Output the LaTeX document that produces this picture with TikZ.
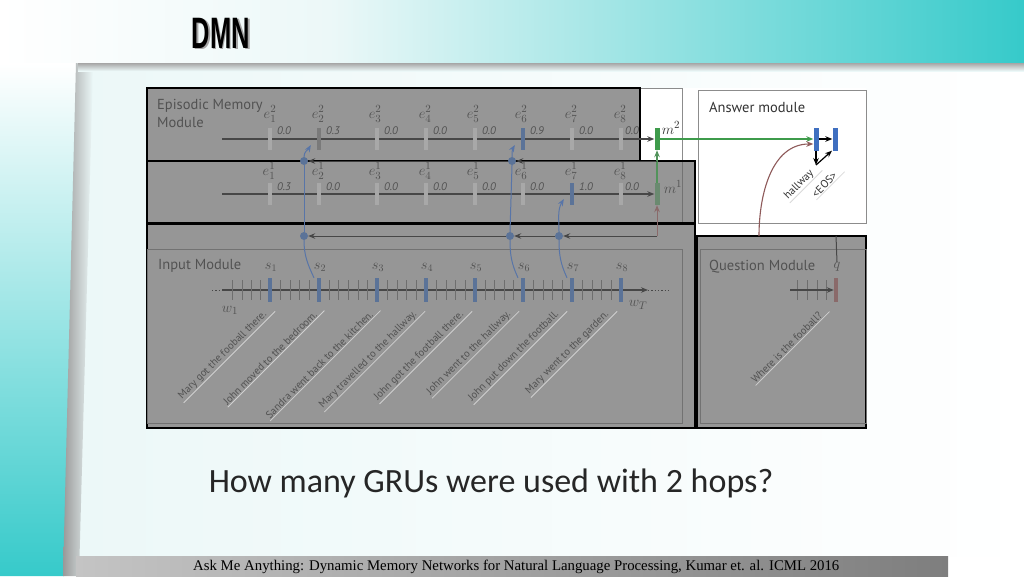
\documentclass[tikz,border=0pt]{standalone}
\usepackage{fontspec}
\usepackage{amsmath}
\usepackage{xcolor}
\usepackage{tikz}
\usetikzlibrary{arrows.meta}
\setmainfont{PT Sans}
\newfontfamily\slidefont{Carlito}
\newfontfamily\citefont{Liberation Serif}
\newfontfamily\titlefont{Liberation Sans}

\definecolor{bannerteal}{HTML}{36CACA}
\definecolor{paneltint}{HTML}{ECF8F8}
\definecolor{barleft}{HTML}{C4C4C4}
\definecolor{barright}{HTML}{7E7E7E}
\definecolor{ovgray}{HTML}{969696}
\definecolor{dimtext}{HTML}{525252}
\definecolor{dimline}{HTML}{474747}
\definecolor{dimtick}{HTML}{6E6E6E}
\definecolor{gatelight}{HTML}{A8A8A8}
\definecolor{gatemid}{HTML}{7A7A7A}
\definecolor{dimblue}{HTML}{5B7398}
\definecolor{linkblue}{HTML}{5875A8}
\definecolor{dimgreen}{HTML}{6A8A70}
\definecolor{memgreen}{HTML}{3E9B4B}
\definecolor{ansblue}{HTML}{3F6FC0}
\definecolor{qbrown}{HTML}{8E5A5A}
\definecolor{dimbrown}{HTML}{8A6A6A}
\definecolor{boxline}{HTML}{8C8C8C}
\definecolor{dimbox}{HTML}{727272}

\tikzset{
  >={Stealth[length=7pt,width=5.5pt]},
  overlay/.style={fill=ovgray, draw=black, line width=1.8pt},
  modbox/.style={draw=boxline, line width=0.9pt},
  innerbox/.style={draw=dimbox, line width=0.9pt},
  bar/.style={rectangle, draw=none, inner sep=0pt, minimum width=4pt, minimum height=22pt},
  sbar/.style={bar, fill=dimblue, minimum height=24pt},
  ansbar/.style={bar, fill=ansblue, minimum width=5pt, minimum height=23pt},
  dot/.style={circle, fill=dimblue, inner sep=0pt, minimum size=8pt},
  modlabel/.style={font=\fontsize{14.5}{18}\selectfont, text=dimtext, align=left, inner sep=0pt},
  elabel/.style={font=\fontsize{15}{15}\selectfont, text=dimtext, inner sep=0pt},
  slabel/.style={font=\fontsize{14}{14}\selectfont, text=dimtext, inner sep=0pt},
  vlabel/.style={font=\itshape\fontsize{11}{11}\selectfont, text=dimtext, inner sep=0pt},
  sent/.style={font=\fontsize{10.5}{10.5}\selectfont, text=dimtext, rotate=45, anchor=east, inner sep=1pt},
  uline/.style={draw=white!55!ovgray, line width=0.8pt, shorten >=-7pt},
  epline/.style={draw=dimline, line width=1.2pt},
  tline/.style={draw=dimline, line width=1.3pt},
  tick/.style={draw=dimtick, line width=0.7pt},
  link/.style={draw=linkblue, line width=1pt},
  gateline/.style={draw=dimline, line width=1pt},
}

\begin{document}
\begin{tikzpicture}[x=1pt, y=-1pt]
\useasboundingbox (0,0) rectangle (1024,576);

% slide background
\fill[white] (0,0) rectangle (1024,576);
\shade[left color=white, right color=paneltint] (0,0) rectangle (330,63);
\shade[left color=paneltint, right color=bannerteal] (330,0) rectangle (1024,63);
\shade[top color=white, bottom color=bannerteal] (0,63) -- (78,63) -- (64,576) -- (0,576) -- cycle;
\shade[left color=paneltint, right color=white] (78,66) rectangle (1024,556);
\shade[left color=gray!80, right color=paneltint] (76,63) -- (93,66) -- (79,576) -- (63,576) -- cycle;
\shade[top color=gray!70, bottom color=paneltint] (78,63) rectangle (1024,71);
\shade[left color=barleft, right color=barright] (76,556) rectangle (948,576);

% title
\node[font=\titlefont\bfseries\fontsize{44}{44}\selectfont, xscale=0.58, text=gray!70] (titleshadow) at (222.5,34.5) {DMN};
\node[font=\titlefont\bfseries\fontsize{44}{44}\selectfont, xscale=0.58, text=black] (title) at (221,33) {DMN};

% figure: original module boxes
\fill[white] (147,88) rectangle (866,428);
\draw[modbox] (147,88) -- (682,88) -- (682,236);
\draw[modbox] (698,90) rectangle (866,223);

% highlight boxes
\draw[overlay] (147,88) rectangle (640,161);
\draw[overlay] (147,161) rectangle (695,223);
\draw[overlay] (147,224) rectangle (695,428);
\draw[overlay] (697,236) rectangle (866,428);
\draw[innerbox] (147,249) rectangle (682,423);
\draw[innerbox] (700,249) rectangle (866,423);
\draw[innerbox] (682,162) -- (682,222);

% module names
\node[modlabel, anchor=north west] (epilabel) at (157,99) {Episodic Memory\\Module};
\node[modlabel, anchor=west] (inlabel) at (158,266) {Input Module};
\node[modlabel, anchor=west] (qlabel) at (709,267) {Question Module};
\node[modlabel, anchor=west, text=black!80] (anslabel) at (709,107) {Answer module};

% memories
\node[bar, fill=memgreen, minimum width=5pt] (m2) at (657,139) {};
\node[elabel, text=black!80] (lm2) at (671,128) {$m^{2}$};
\node[bar, fill=dimgreen, minimum width=5pt] (m1) at (657,194) {};
\node[elabel] (lm1) at (673,187) {$m^{1}$};

% episode 2
\coordinate (ep2start) at (222,139);
\draw[epline, ->] (ep2start) -- (m2.west);
\node[bar, fill=gatelight] (e21) at (270,139) {};
\node[bar, fill=gatemid] (e22) at (319,139) {};
\node[bar, fill=gatelight] (e23) at (377,139) {};
\node[bar, fill=gatelight] (e24) at (426,139) {};
\node[bar, fill=gatelight] (e25) at (475,139) {};
\node[bar, fill=dimblue] (e26) at (523,139) {};
\node[bar, fill=gatelight] (e27) at (572,139) {};
\node[bar, fill=gatelight] (e28) at (621,139) {};
\node[elabel] (le21) at (270,114) {$e^{2}_{1}$};
\node[elabel] (le22) at (318,114) {$e^{2}_{2}$};
\node[elabel] (le23) at (375,114) {$e^{2}_{3}$};
\node[elabel] (le24) at (425,114) {$e^{2}_{4}$};
\node[elabel] (le25) at (473,114) {$e^{2}_{5}$};
\node[elabel] (le26) at (521,114) {$e^{2}_{6}$};
\node[elabel] (le27) at (571,114) {$e^{2}_{7}$};
\node[elabel] (le28) at (620,114) {$e^{2}_{8}$};
\node[vlabel] (v21) at (284,131) {0.0};
\node[vlabel] (v22) at (333,131) {0.3};
\node[vlabel] (v23) at (391,131) {0.0};
\node[vlabel] (v24) at (440,131) {0.0};
\node[vlabel] (v25) at (489,131) {0.0};
\node[vlabel] (v26) at (537,131) {0.9};
\node[vlabel] (v27) at (586,131) {0.0};
\node[vlabel] (v28) at (632,131) {0.0};

% episode 1
\coordinate (ep1start) at (222,194);
\draw[epline, ->] (ep1start) -- (m1.west);
\node[bar, fill=gatelight] (e11) at (270,194) {};
\node[bar, fill=gatelight] (e12) at (319,194) {};
\node[bar, fill=gatelight] (e13) at (377,194) {};
\node[bar, fill=gatelight] (e14) at (426,194) {};
\node[bar, fill=gatelight] (e15) at (475,194) {};
\node[bar, fill=gatelight] (e16) at (523,194) {};
\node[bar, fill=dimblue] (e17) at (572,194) {};
\node[bar, fill=gatelight] (e18) at (621,194) {};
\node[elabel] (le11) at (269,171) {$e^{1}_{1}$};
\node[elabel] (le12) at (318,171) {$e^{1}_{2}$};
\node[elabel] (le13) at (375,171) {$e^{1}_{3}$};
\node[elabel] (le14) at (425,171) {$e^{1}_{4}$};
\node[elabel] (le15) at (473,171) {$e^{1}_{5}$};
\node[elabel] (le16) at (521,171) {$e^{1}_{6}$};
\node[elabel] (le17) at (571,171) {$e^{1}_{7}$};
\node[elabel] (le18) at (620,171) {$e^{1}_{8}$};
\node[vlabel] (v11) at (284,187) {0.3};
\node[vlabel] (v12) at (333,187) {0.0};
\node[vlabel] (v13) at (391,187) {0.0};
\node[vlabel] (v14) at (440,187) {0.0};
\node[vlabel] (v15) at (489,187) {0.0};
\node[vlabel] (v16) at (537,187) {0.0};
\node[vlabel] (v17) at (586,187) {1.0};
\node[vlabel] (v18) at (632,187) {0.0};

% memory updates and question feed
\draw[line width=1.1pt, draw=memgreen!70!gray, ->] (m1.north) -- (m2.south);
\coordinate (mbase) at (657,236);
\coordinate (mtop) at (657,161);
\coordinate (qcorner) at (836,236);
\coordinate (qbend) at (759,236);
\draw[gateline, draw=dimbrown, ->] (mbase) -- (m1.south);

% attention gates
\node[dot] (d2) at (304,236) {};
\node[dot] (d6) at (510,236) {};
\node[dot] (d7) at (559,236) {};
\node[dot] (g2) at (304,161) {};
\node[dot] (g6) at (512,161) {};
\draw[gateline, ->] (mbase) -- (d7);
\draw[gateline, ->] (d7) -- (d6);
\draw[gateline, ->] (d6) -- (d2);
\draw[gateline, draw=black!75, ->] (mtop) -- (g6);
\draw[gateline, draw=black!75, ->] (g6) -- (g2);

% answer module
\node[ansbar] (a1) at (816,139) {};
\node[ansbar] (a2) at (835,139) {};
\coordinate (hw) at (816,165);
\draw[line width=1.1pt, draw=memgreen, ->] (m2.east) -- (a1.west);
\draw[line width=1.2pt, ->] (a1.east) -- (a2.west);
\draw[line width=1.2pt, ->] (a1.south) -- (hw);
\draw[line width=1.2pt, ->] (hw) -- ([xshift=-3pt]a2.south);
\node[sent, text=black!80, font=\fontsize{11}{11}\selectfont] (hwtxt) at (813,171) {hallway};
\node[sent, text=black!80, font=\fontsize{11}{11}\selectfont] (eostxt) at (836,173) {<EOS>};
\draw[uline, draw=black!15] (hwtxt.south west) -- (hwtxt.south east);
\draw[uline, draw=black!15] (eostxt.south west) -- (eostxt.south east);
\draw[line width=1.1pt, draw=qbrown, ->] (qbend) to[out=90, in=180] ([yshift=-5pt]a1.west);

% input module
\coordinate (wpre) at (212,290);
\coordinate (wstart) at (222,290);
\coordinate (wend) at (648,290);
\coordinate (wdots) at (668,290);
\draw[tline, dotted, line width=0.8pt] (wpre) -- (wstart);
\draw[tline, ->] (wstart) -- (wend);
\draw[tline, dotted, line width=0.8pt] (wend) -- (wdots);
\foreach \x in {232,242,251,260,280,290,299,309,329,338,348,358,367,387,397,406,416,436,446,455,465,485,494,504,513,533,543,552,562,582,592,601,611}
  \draw[tick] (\x,280) -- (\x,300);
\node[sbar] (s1) at (270,290) {};
\node[sbar] (s2) at (319,290) {};
\node[sbar] (s3) at (377,290) {};
\node[sbar] (s4) at (426,290) {};
\node[sbar] (s5) at (475,290) {};
\node[sbar] (s6) at (523,290) {};
\node[sbar] (s7) at (572,290) {};
\node[sbar] (s8) at (621,290) {};
\node[slabel] (ls1) at (271,267) {$s_{1}$};
\node[slabel] (ls2) at (320,267) {$s_{2}$};
\node[slabel] (ls3) at (378,267) {$s_{3}$};
\node[slabel] (ls4) at (427,267) {$s_{4}$};
\node[slabel] (ls5) at (476,267) {$s_{5}$};
\node[slabel] (ls6) at (524,267) {$s_{6}$};
\node[slabel] (ls7) at (573,267) {$s_{7}$};
\node[slabel] (ls8) at (622,267) {$s_{8}$};
\node[elabel] (w1) at (230,310) {$w_{1}$};
\node[elabel] (wT) at (638,305) {$w_{T}$};

\node[sent] (t1) at (266,312) {Mary got the fooball there.};
\node[sent] (t2) at (316,312) {John moved to the bedroom.};
\node[sent] (t3) at (372,312) {Sandra went back to the kitchen.};
\node[sent] (t4) at (416,312) {Mary travelled to the hallway.};
\node[sent] (t5) at (463,312) {John got the football there.};
\node[sent] (t6) at (510,312) {John went to the hallway.};
\node[sent] (t7) at (558,312) {John put down the football.};
\node[sent] (t8) at (608,312) {Mary went to the garden.};
\draw[uline] (t1.south west) -- (t1.south east);
\draw[uline] (t2.south west) -- (t2.south east);
\draw[uline] (t3.south west) -- (t3.south east);
\draw[uline] (t4.south west) -- (t4.south east);
\draw[uline] (t5.south west) -- (t5.south east);
\draw[uline] (t6.south west) -- (t6.south east);
\draw[uline] (t7.south west) -- (t7.south east);
\draw[uline] (t8.south west) -- (t8.south east);

% gate inputs from sentences
\draw[link] (d2.south) to[out=-90, in=115] ([xshift=-5pt]s2.north);
\draw[link] (d2.north) -- (g2.south);
\draw[link, ->] (g2.north) to[out=90, in=-120] ([xshift=-6pt, yshift=-6pt]e22.west);
\draw[link] (d6.south) to[out=-90, in=115] ([xshift=-5pt]s6.north);
\draw[link] (d6.north) -- (g6.south);
\draw[link, ->] (g6.north) to[out=90, in=-120] ([xshift=-6pt, yshift=-6pt]e26.west);
\draw[link] (d7.south) to[out=-90, in=115] ([xshift=-5pt]s7.north);
\draw[link, ->] (d7.north) to[out=90, in=-120] ([xshift=-6pt, yshift=-5pt]e17.west);

% question module
\coordinate (qwstart) at (790,290);
\node[sbar, fill=dimbrown] (qs) at (836,290) {};
\foreach \x in {797,807,817,826}
  \draw[tick] (\x,280) -- (\x,300);
\draw[tline, ->] (qwstart) -- (qs.west);
\node[slabel] (ql) at (837,267) {$q$};
\draw[gateline, draw=dimline] (ql.north) -- (qcorner);
\node[sent] (tq) at (821,313) {Where is the fooball?};
\draw[uline] (tq.south west) -- (tq.south east);

% slide texts
\node[font=\slidefont\fontsize{34}{40}\selectfont, text=black!85] (ask) at (491,483) {How many GRUs were used with 2 hops?};
\node[font=\citefont\fontsize{14.8}{17}\selectfont, anchor=west, inner sep=0pt] (cite) at (193,567) {Ask Me Anything: Dynamic Memory Networks for Natural Language Processing, Kumar et. al. ICML 2016};
\end{tikzpicture}
\end{document}
